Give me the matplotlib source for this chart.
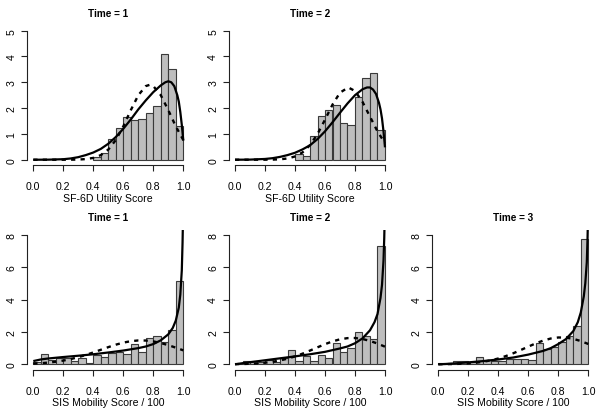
import matplotlib
matplotlib.use("Agg")
import matplotlib.pyplot as plt
import numpy as np

plt.rcParams['font.family'] = ['Liberation Sans', 'DejaVu Sans']

# histogram bins (width 0.05 from 0 to 1)
bin_left = np.round(np.arange(0, 1, 0.05), 2)

# ---- SF-6D utility score, density heights per bin
sf_t1 = [0, 0, 0, 0, 0, 0, 0, 0, 0.1, 0.27, 0.8, 1.22, 1.67, 1.54, 1.57, 1.81, 2.07, 4.10, 3.52, 1.29]
sf_t2 = [0, 0, 0, 0, 0, 0, 0, 0, 0.22, 0.16, 0.91, 1.68, 1.93, 2.13, 1.41, 1.36, 2.44, 3.15, 3.36, 1.15]

# ---- SIS mobility score / 100
sis_t1 = [0.12, 0.66, 0.29, 0.39, 0.37, 0.2, 0.37, 0.08, 0.6, 0.45, 0.68, 0.74, 0.64, 1.23, 0.74, 1.63, 1.73, 1.36, 2.12, 5.14]
sis_t2 = [0.04, 0.19, 0.19, 0.12, 0.29, 0.12, 0.41, 0.86, 0.19, 0.51, 0.19, 0.56, 0.41, 1.32, 0.74, 1.01, 1.98, 1.73, 1.56, 7.28]
sis_t3 = [0.08, 0.06, 0.23, 0.23, 0.16, 0.45, 0.25, 0.23, 0.21, 0.33, 0.33, 0.33, 0.25, 1.30, 0.95, 1.05, 1.36, 1.73, 2.37, 7.72]

# fitted curves (solid = beta fit, dashed = normal fit)
sf_solid_x = [0, 0.1, 0.2, 0.25, 0.3, 0.35, 0.4, 0.45, 0.5, 0.55, 0.6, 0.65, 0.7, 0.75, 0.8,
              0.85, 0.88, 0.9, 0.92, 0.94, 0.96, 0.97, 0.98, 0.99, 1.0]
sf_t1_solid = [0, 0.003, 0.02, 0.05, 0.1, 0.18, 0.28, 0.42, 0.62, 0.88, 1.2, 1.56, 1.95, 2.3, 2.62,
               2.88, 3.0, 3.04, 3.0, 2.85, 2.5, 2.25, 1.85, 1.35, 0.74]
sf_t2_solid = [0, 0.005, 0.03, 0.06, 0.11, 0.18, 0.27, 0.4, 0.56, 0.8, 1.1, 1.45, 1.82, 2.18, 2.5,
               2.73, 2.8, 2.8, 2.72, 2.55, 2.2, 1.95, 1.6, 1.1, 0.48]

sf_t1_dash_x = [0, 0.2, 0.25, 0.3, 0.35, 0.4, 0.45, 0.5, 0.55, 0.6, 0.65, 0.7, 0.75, 0.775, 0.8, 0.85, 0.9, 0.95, 1.0]
sf_t1_dash = [0, 0.0005, 0.002, 0.0075, 0.025, 0.071, 0.178, 0.394, 0.762, 1.292, 1.92, 2.5, 2.853, 2.9,
              2.853, 2.5, 1.92, 1.292, 0.762]
sf_t2_dash_x = [0, 0.2, 0.25, 0.3, 0.35, 0.4, 0.45, 0.5, 0.55, 0.6, 0.65, 0.7, 0.755, 0.8, 0.85, 0.9, 0.95, 1.0]
sf_t2_dash = [0, 0.0014, 0.005, 0.017, 0.049, 0.126, 0.283, 0.565, 0.995, 1.55, 2.134, 2.599, 2.8,
              2.664, 2.242, 1.669, 1.098, 0.639]

sis_solid_x = [0, 0.05, 0.1, 0.2, 0.3, 0.4, 0.5, 0.6, 0.7, 0.75, 0.8, 0.85, 0.9, 0.93, 0.95,
               0.97, 0.98, 0.99, 0.995, 1.0]
sis_t1_solid = [0.2, 0.3, 0.36, 0.45, 0.53, 0.62, 0.73, 0.85, 1.0, 1.1, 1.25, 1.48, 1.85, 2.25, 2.7,
                3.5, 4.3, 5.8, 7.5, 10]
sis_t2_solid = [0, 0.07, 0.13, 0.25, 0.37, 0.49, 0.62, 0.77, 0.98, 1.1, 1.3, 1.6, 2.1, 2.6, 3.1,
                4.1, 4.9, 6.4, 7.8, 10]
sis_t3_solid = [0, 0.02, 0.05, 0.12, 0.2, 0.3, 0.42, 0.6, 0.83, 1.0, 1.25, 1.55, 2.05, 2.6, 3.2,
                4.2, 5.0, 6.3, 7.8, 10]

sis_dash_x = [0, 0.05, 0.1, 0.15, 0.2, 0.25, 0.3, 0.35, 0.4, 0.45, 0.5, 0.55, 0.6, 0.65, 0.7,
              0.75, 0.8, 0.85, 0.9, 0.95, 1.0]
sis_t1_dash = [0.042, 0.068, 0.106, 0.159, 0.231, 0.325, 0.44, 0.578, 0.732, 0.896, 1.06, 1.212,
               1.338, 1.428, 1.473, 1.468, 1.414, 1.315, 1.183, 1.028, 0.863]
sis_t2_dash = [0.01, 0.019, 0.035, 0.06, 0.099, 0.157, 0.239, 0.349, 0.489, 0.657, 0.847, 1.048,
               1.243, 1.414, 1.543, 1.616, 1.623, 1.563, 1.444, 1.28, 1.088]
sis_t3_dash = [0.005, 0.01, 0.018, 0.034, 0.059, 0.099, 0.159, 0.244, 0.359, 0.507, 0.683, 0.883,
               1.092, 1.293, 1.467, 1.593, 1.656, 1.649, 1.572, 1.435, 1.254]

x_ticks = [0.0, 0.2, 0.4, 0.6, 0.8, 1.0]

W, H = 600, 414
fig = plt.figure(figsize=(6, 4.14), dpi=100)


def panel(left_px, top_px, h_px, title, xlabel, heights, sx, sy, dx, dy, ymax, yticks):
    ax = fig.add_axes([left_px / W, 1 - (top_px + h_px) / H, 162 / W, h_px / H])
    mask = np.array(heights) > 0
    ax.bar(bin_left[mask], np.array(heights)[mask], width=0.05, align='edge',
           color='#bebebe', edgecolor='#3a3a3a', linewidth=0.8, zorder=1)
    ax.plot(sx, sy, color='black', lw=1.6, zorder=3, solid_capstyle='butt')
    ax.plot(dx, dy, color='black', lw=1.7, zorder=3, dashes=(1.8, 2.2))
    ax.set_xlim(-0.04, 1.04)
    ax.set_ylim(-0.04 * ymax, 1.04 * ymax)
    for s in ['top', 'right']:
        ax.spines[s].set_visible(False)
    ax.spines['left'].set_bounds(0, ymax)
    ax.spines['bottom'].set_bounds(0, 1)
    for s in ['left', 'bottom']:
        ax.spines[s].set_linewidth(0.8)
        ax.spines[s].set_color('#222222')
    ax.set_xticks(x_ticks)
    ax.set_xticklabels(['%.1f' % v for v in x_ticks])
    ax.set_yticks(yticks)
    ax.set_yticklabels([str(v) for v in yticks], rotation=90, va='center')
    ax.tick_params(axis='x', length=4.3, width=0.8, pad=7.5, labelsize=7.6, color='#222222')
    ax.tick_params(axis='y', length=4.3, width=0.8, pad=3.5, labelsize=7.6, color='#222222')
    ax.set_xlabel(xlabel, fontsize=7.6, labelpad=1.0)
    ax.set_title(title, fontsize=7.2, fontweight='bold', pad=7)
    return ax


top_h = 139.4
bot_h = 140.0
panel(27.3, 26.5, top_h, 'Time = 1', 'SF-6D Utility Score', sf_t1,
      sf_solid_x, sf_t1_solid, sf_t1_dash_x, sf_t1_dash, 5, [0, 1, 2, 3, 4, 5])
panel(229.0, 26.5, top_h, 'Time = 2', 'SF-6D Utility Score', sf_t2,
      sf_solid_x, sf_t2_solid, sf_t2_dash_x, sf_t2_dash, 5, [0, 1, 2, 3, 4, 5])
panel(27.3, 230.5, bot_h, 'Time = 1', 'SIS Mobility Score / 100', sis_t1,
      sis_solid_x, sis_t1_solid, sis_dash_x, sis_t1_dash, 8, [0, 2, 4, 6, 8])
panel(229.0, 230.5, bot_h, 'Time = 2', 'SIS Mobility Score / 100', sis_t2,
      sis_solid_x, sis_t2_solid, sis_dash_x, sis_t2_dash, 8, [0, 2, 4, 6, 8])
panel(432.3, 230.5, bot_h, 'Time = 3', 'SIS Mobility Score / 100', sis_t3,
      sis_solid_x, sis_t3_solid, sis_dash_x, sis_t3_dash, 8, [0, 2, 4, 6, 8])

fig.savefig('out.png', dpi=100)
